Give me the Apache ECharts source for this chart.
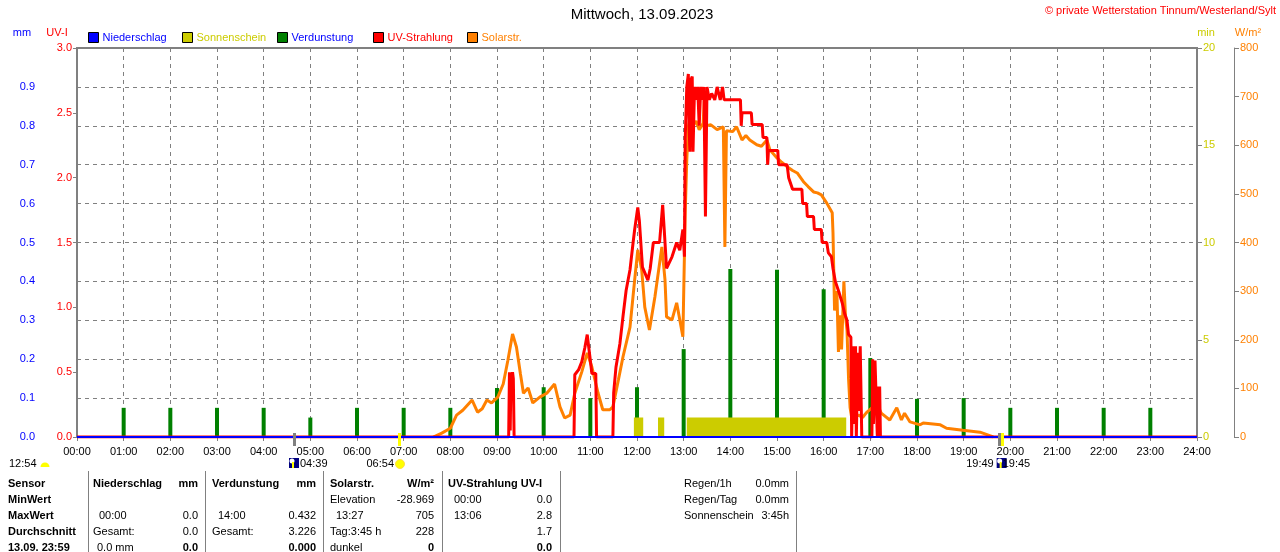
<!DOCTYPE html>
<html>
<head>
<meta charset="utf-8">
<title>Mittwoch, 13.09.2023</title>
<script src="https://cdn.jsdelivr.net/npm/echarts@6/dist/echarts.min.js"></script>
<style>
html, body { margin: 0; padding: 0; background: #fff; }
#content { width: 1280px; height: 552px; }
</style>
</head>
<body>
<div id="content"></div>
<script>
// x-Achse: Stunden
var hourLabels = ['00:00','01:00','02:00','03:00','04:00','05:00','06:00','07:00','08:00','09:00','10:00','11:00','12:00',
    '13:00','14:00','15:00','16:00','17:00','18:00','19:00','20:00','21:00','22:00','23:00','24:00'];

// Niederschlag (mm) - den ganzen Tag 0
var rainTimes = ['00:00', '24:00'];
var rainValues = [0.0, 0.0];

// Verdunstung je Stunde (mm)
var evapHours = [1, 2, 3, 4, 5, 6, 7, 8, 9, 10, 11, 12, 13, 14, 15, 16, 17, 18, 19, 20, 21, 22, 23];
var evapValues = [0.075, 0.075, 0.075, 0.075, 0.05, 0.075, 0.075, 0.075, 0.126, 0.128, 0.10, 0.128,
    0.226, 0.432, 0.43, 0.38, 0.203, 0.098, 0.10, 0.075, 0.075, 0.075, 0.075];

// Sonnenschein (min je Minute)
var sunStart = ['11:56', '12:27', '13:04'];
var sunEnd = ['12:08', '12:35', '16:29'];
var sunValue = 1;

// UV-Strahlung (UV-I)
var uvPoints = [
    ['00:00',0],['09:15',0],['09:16',0.5],['09:17',0.05],['09:18',0.5],['09:19',0.3],['09:20',0.5],['09:21',0.45],['09:22',0],
    ['10:39',0],['10:40',0.48],['10:45',0.52],['10:49',0.58],['10:53',0.69],['10:56',0.79],['10:58',0.69],['11:02',0.49],['11:07',0.49],['11:08',0],
    ['11:29',0],['11:30',0.34],['11:33',0.54],['11:38',0.72],['11:42',0.93],['11:46',1.13],['11:51',1.29],['11:55',1.5],['11:57',1.6],
    ['12:01',1.77],['12:03',1.67],['12:07',1.31],['12:14',1.21],['12:17',1.3],['12:21',1.5],['12:29',1.5],['12:33',1.79],['12:35',1.6],
    ['12:38',1.3],['12:45',1.39],['12:51',1.5],['12:55',1.44],['12:59',1.6],['13:01',1.39],['13:02',2.3],['13:04',2.7],['13:06',2.8],
    ['13:07',2.4],['13:08',2.2],['13:09',2.75],['13:11',2.78],['13:12',2.2],['13:14',2.7],['13:16',2.6],['13:18',2.7],['13:20',2.4],
    ['13:22',2.7],['13:24',2.6],['13:26',2.7],['13:28',1.7],['13:30',2.7],['13:33',2.6],['13:36',2.65],['13:40',2.6],['13:43',2.7],
    ['13:47',2.6],['13:50',2.7],['13:52',2.6],['14:13',2.6],['14:14',2.4],['14:15',2.5],['14:27',2.5],['14:28',2.41],['14:41',2.41],
    ['14:42',2.31],['14:47',2.31],['14:48',2.1],['14:49',2.21],['15:01',2.21],['15:02',2.1],['15:13',2.1],['15:15',2.0],['15:20',1.91],
    ['15:32',1.91],['15:33',1.8],['15:38',1.8],['15:39',1.7],['15:47',1.7],['15:48',1.6],['15:57',1.6],['15:58',1.5],['16:04',1.5],
    ['16:06',1.42],['16:10',1.39],['16:12',1.3],['16:15',1.2],['16:20',1.11],['16:24',1.03],['16:27',0.95],['16:30',0.9],['16:32',0.79],
    ['16:35',0.77],['16:36',0],['16:38',0.7],['16:39',0.1],['16:41',0.7],['16:42',0],['16:44',0.65],['16:45',0.2],['16:47',0.7],['16:49',0],
    ['17:02',0],['17:03',0.6],['17:04',0.1],['17:06',0.59],['17:08',0.59],['17:09',0],['17:10',0.39],['17:11',0],['17:12',0.39],['17:13',0],
    ['24:00',0]
];

// Solarstrahlung (W/m2)
var solarPoints = [
    ['07:38',0],['07:49',8],['08:00',18],['08:08',45],['08:16',55],['08:28',76],['08:35',51],['08:41',58],['08:47',76],['08:53',70],
    ['09:01',82],['09:08',109],['09:14',158],['09:20',212],['09:25',185],['09:30',131],['09:34',90],['09:40',101],['09:46',70],['09:55',82],
    ['10:04',90],['10:14',109],['10:21',62],['10:27',39],['10:34',45],['10:40',90],['10:49',134],['10:56',173],['11:02',144],['11:10',90],
    ['11:16',56],['11:25',56],['11:29',62],['11:36',117],['11:42',165],['11:51',226],['11:57',323],['12:01',385],['12:06',344],['12:10',267],
    ['12:16',220],['12:23',288],['12:32',391],['12:36',323],['12:38',247],['12:45',241],['12:51',276],['12:59',206],['13:02',461],['13:04',570],
    ['13:06',638],['13:08',655],['13:12',640],['13:16',650],['13:20',632],['13:25',645],['13:27',705],['13:29',640],['13:35',642],['13:43',632],
    ['13:51',638],['13:53',391],['13:55',630],['14:03',628],['14:08',638],['14:15',611],['14:20',620],['14:25',611],['14:34',601],['14:40',598],
    ['14:47',611],['14:51',590],['15:00',574],['15:06',565],['15:13',556],['15:20',548],['15:26',543],['15:34',525],['15:40',515],['15:47',504],
    ['15:52',502],['15:57',498],['16:04',481],['16:11',461],['16:12',420],['16:14',260],['16:17',300],['16:19',175],['16:21',250],['16:23',180],
    ['16:26',320],['16:28',250],['16:30',220],['16:32',120],['16:34',60],['16:36',40],['16:45',45],['16:50',40],['16:55',50],['17:02',60],
    ['17:08',70],['17:14',49],['17:25',35],['17:34',60],['17:40',35],['17:44',49],['17:51',31],['18:04',25],['18:08',29],['18:30',25],
    ['18:38',18],['18:59',14],['19:10',12],['19:21',10],['19:30',5],['19:38',0]
];

// Mond / Sonne Auf- und Untergang
var moonSet = '04:39';
var sunRise = '06:54';
var sunSet = '19:49';
var moonRise = '19:45';
var moonLeft = '12:54';

// Tabelle unten
var tableRows = ['Sensor', 'MinWert', 'MaxWert', 'Durchschnitt', '13.09. 23:59'];
var tableCols = [
    { head: 'Niederschlag', unit: 'mm', cells: [['', ''], ['00:00', '0.0'], ['Gesamt:', '0.0'], ['0.0 mm', '0.0']] },
    { head: 'Verdunstung', unit: 'mm', cells: [['', ''], ['14:00', '0.432'], ['Gesamt:', '3.226'], ['', '0.000']] },
    { head: 'Solarstr.', unit: 'W/m²', cells: [['Elevation', '-28.969'], ['13:27', '705'], ['Tag:3:45 h', '228'], ['dunkel', '0']] },
    { head: 'UV-Strahlung UV-I', unit: '', cells: [['00:00', '0.0'], ['13:06', '2.8'], ['', '1.7'], ['', '0.0']] }
];
var sideLabels = ['Regen/1h', 'Regen/Tag', 'Sonnenschein'];
var sideValues = ['0.0mm', '0.0mm', '3:45h'];

var FONT = '"Liberation Sans", Arial, sans-serif';
var GRAY = '#808080';

function toHour(s) {
    var p = s.split(':');
    return parseInt(p[0], 10) + parseInt(p[1], 10) / 60;
}

function txt(x, y, s, color, opt) {
    opt = opt || {};
    return {
        type: 'text', x: x, y: y, z: 100, silent: true,
        style: {
            text: s, fill: color || '#000',
            font: (opt.bold ? 'bold ' : '') + (opt.size || 11) + 'px ' + FONT,
            align: opt.align || 'left', verticalAlign: 'middle'
        }
    };
}

// Daten aufbereiten
var rainData = rainTimes.map(function (t, i) { return [toHour(t), rainValues[i]]; });
var evapData = evapHours.map(function (h, i) { return [h, evapValues[i]]; });
var sunData = [];
for (var i = 0; i < sunStart.length; i++) {
    var a = toHour(sunStart[i]), b = toHour(sunEnd[i]);
    sunData.push([a, 0], [a, sunValue], [b, sunValue], [b, 0]);
}
var uvData = uvPoints.map(function (p) { return [toHour(p[0]), p[1]]; });
var solarData = solarPoints.map(function (p) { return [toHour(p[0]), p[1]]; });

var myChart = echarts.init(document.getElementById('content'));

var legendDefs = [
    { name: 'Niederschlag', left: 88, text: '#0000FF' },
    { name: 'Sonnenschein', left: 182, text: '#CCCC00' },
    { name: 'Verdunstung', left: 277, text: '#0000FF' },
    { name: 'UV-Strahlung', left: 373, text: '#FF0000' },
    { name: 'Solarstr.', left: 467, text: '#FF8000' }
];

var option = {
    animation: false,
    backgroundColor: '#fff',
    textStyle: { fontFamily: FONT },
    grid: { left: 77, right: 83, top: 48, bottom: 115, show: true, borderColor: GRAY, borderWidth: 2 },
    legend: legendDefs.map(function (d) {
        return {
            data: [{ name: d.name, icon: 'rect' }],
            left: d.left, top: 32, padding: 0,
            itemWidth: 10, itemHeight: 10, itemGap: 0,
            itemStyle: { borderColor: '#000', borderWidth: 1 },
            textStyle: { color: d.text, fontSize: 11, fontFamily: FONT, padding: [0, 0, 0, -1] },
            selectedMode: false
        };
    }),
    xAxis: {
        type: 'value', min: 0, max: 24, interval: 1,
        axisLine: { lineStyle: { color: GRAY, width: 2 } },
        axisTick: { length: 4, lineStyle: { color: GRAY } },
        axisLabel: {
            color: '#000', fontSize: 11, margin: 9,
            formatter: function (v) { return hourLabels[v]; }
        },
        splitLine: { show: true, lineStyle: { color: GRAY, type: [4, 4], width: 1 } }
    },
    yAxis: [
        { // mm
            type: 'value', min: 0, max: 1, interval: 0.1, position: 'left', offset: 37,
            axisLine: { show: true, lineStyle: { color: GRAY, width: 1 } },
            axisTick: { show: true, inside: true, length: 4, lineStyle: { color: GRAY } },
            axisLabel: {
                color: '#0000FF', fontSize: 11, margin: 5,
                formatter: function (v) { return v >= 0.999 ? '' : v.toFixed(1); }
            },
            splitLine: { show: true, lineStyle: { color: GRAY, type: [4, 4], width: 1 } }
        },
        { // UV-I
            type: 'value', min: 0, max: 3, interval: 0.5, position: 'left', offset: 0,
            axisLine: { show: true, lineStyle: { color: GRAY, width: 2 } },
            axisTick: { show: true, length: 4, lineStyle: { color: GRAY } },
            axisLabel: { color: '#FF0000', fontSize: 11, margin: 5, formatter: function (v) { return v.toFixed(1); } },
            splitLine: { show: false }
        },
        { // min
            type: 'value', min: 0, max: 20, interval: 5, position: 'right', offset: 0,
            axisLine: { show: true, lineStyle: { color: GRAY, width: 2 } },
            axisTick: { show: true, length: 5, lineStyle: { color: GRAY } },
            axisLabel: { color: '#CCCC00', fontSize: 11, margin: 6 },
            splitLine: { show: false }
        },
        { // W/m2
            type: 'value', min: 0, max: 800, interval: 100, position: 'right', offset: 37,
            axisLine: { show: true, lineStyle: { color: GRAY, width: 1 } },
            axisTick: { show: true, length: 5, lineStyle: { color: GRAY } },
            axisLabel: { color: '#FF8000', fontSize: 11, margin: 6 },
            splitLine: { show: false }
        }
    ],
    series: [
        {
            name: 'Sonnenschein', type: 'line', yAxisIndex: 2, data: sunData,
            showSymbol: false, color: '#CCCC00',
            lineStyle: { width: 0 }, areaStyle: { color: '#CCCC00', opacity: 1 }
        },
        {
            name: 'Verdunstung', type: 'bar', yAxisIndex: 0, data: evapData,
            barWidth: 4, color: '#008000', itemStyle: { color: '#008000' }
        },
        {
            name: 'Solarstr.', type: 'line', yAxisIndex: 3, data: solarData,
            showSymbol: false, color: '#FF8000', lineStyle: { width: 3, color: '#FF8000' }
        },
        {
            name: 'UV-Strahlung', type: 'line', yAxisIndex: 1, data: uvData,
            showSymbol: false, color: '#FF0000', lineStyle: { width: 3, color: '#FF0000' }
        },
        {
            name: 'Niederschlag', type: 'line', yAxisIndex: 0, data: rainData,
            showSymbol: false, color: '#0000FF', lineStyle: { width: 2, color: '#0000FF' }
        }
    ]
};

myChart.setOption(option);

// Beschriftungen, Marker, Tabelle
var g = [];
g.push(txt(642, 15, 'Mittwoch, 13.09.2023', '#000', { size: 15, align: 'center' }));
g.push(txt(1276, 11, '© private Wetterstation Tinnum/Westerland/Sylt', '#FF0000', { align: 'right' }));
g.push(txt(22, 33, 'mm', '#0000FF', { align: 'center' }));
g.push(txt(57, 33, 'UV-I', '#FF0000', { align: 'center' }));
g.push(txt(1206, 33, 'min', '#CCCC00', { align: 'center' }));
g.push(txt(1248, 33, 'W/m²', '#FF8000', { align: 'center' }));

function px(t) { return myChart.convertToPixel({ xAxisIndex: 0 }, toHour(t)); }
var baseY = myChart.convertToPixel({ yAxisIndex: 0 }, 0);

function tick(t, color) {
    var x = Math.round(px(t));
    g.push({ type: 'rect', z: 90, silent: true, shape: { x: x - 1, y: baseY - 4, width: 3, height: 13 }, style: { fill: color } });
}
function moonIcon(x) {
    g.push({ type: 'rect', z: 95, silent: true, shape: { x: x, y: 458, width: 10, height: 10 }, style: { fill: '#000080' } });
    g.push({ type: 'circle', z: 96, silent: true, shape: { cx: x + 3, cy: 461, r: 2.5 }, style: { fill: '#FFFFFF' } });
    g.push({ type: 'rect', z: 96, silent: true, shape: { x: x + 3, y: 462, width: 2, height: 6 }, style: { fill: '#FFFF00' } });
}
function sunIcon(x) {
    g.push({ type: 'circle', z: 95, silent: true, shape: { cx: x, cy: 464, r: 4.5 }, style: { fill: '#FFFF00', stroke: '#FFE040', lineWidth: 1 } });
}

tick(moonSet, GRAY);
tick(sunRise, '#FFFF00');
tick(moonRise, GRAY);
tick(sunSet, '#FFFF00');

var xm = px(moonSet);
moonIcon(xm - 5);
g.push(txt(xm + 6, 464, moonSet, '#000'));
var xs = px(sunRise);
sunIcon(xs + 1);
g.push(txt(xs - 5, 464, sunRise, '#000', { align: 'right' }));
var xr = px(moonRise);
g.push(txt(xr - 5, 464, sunSet, '#000', { align: 'right' }));
moonIcon(xr - 2);
g.push(txt(xr + 4, 464, moonRise, '#000'));
g.push(txt(9, 464, moonLeft, '#000'));
g.push({ type: 'sector', z: 95, silent: true, shape: { cx: 45, cy: 467, r0: 0, r: 4.5, startAngle: Math.PI, endAngle: 2 * Math.PI }, style: { fill: '#FFFF00' } });

// Tabelle
var rowY = [484, 500, 516, 532, 548];
var colLeft = [93, 212, 330, 448];
var colRight = [198, 316, 434, 552];
var sepX = [88, 205, 323, 442, 560, 796];
sepX.forEach(function (x) {
    g.push({ type: 'line', silent: true, shape: { x1: x + 0.5, y1: 471, x2: x + 0.5, y2: 552 }, style: { stroke: GRAY, lineWidth: 1 } });
});
tableRows.forEach(function (r, i) {
    g.push(txt(8, rowY[i], r, '#000', { bold: true }));
});
tableCols.forEach(function (c, j) {
    g.push(txt(colLeft[j], rowY[0], c.head, '#000', { bold: true }));
    if (c.unit) g.push(txt(colRight[j], rowY[0], c.unit, '#000', { bold: true, align: 'right' }));
    c.cells.forEach(function (cell, i) {
        var indent = /^\d\d:\d\d$/.test(cell[0]) ? 6 : (cell[0] === '0.0 mm' ? 4 : 0);
        if (cell[0]) g.push(txt(colLeft[j] + indent, rowY[i + 1], cell[0], '#000'));
        if (cell[1]) g.push(txt(colRight[j], rowY[i + 1], cell[1], '#000', { align: 'right', bold: i === 3 }));
    });
});
sideLabels.forEach(function (s, i) {
    g.push(txt(684, rowY[i], s, '#000'));
    g.push(txt(789, rowY[i], sideValues[i], '#000', { align: 'right' }));
});

myChart.setOption({ graphic: g });
</script>
</body>
</html>
